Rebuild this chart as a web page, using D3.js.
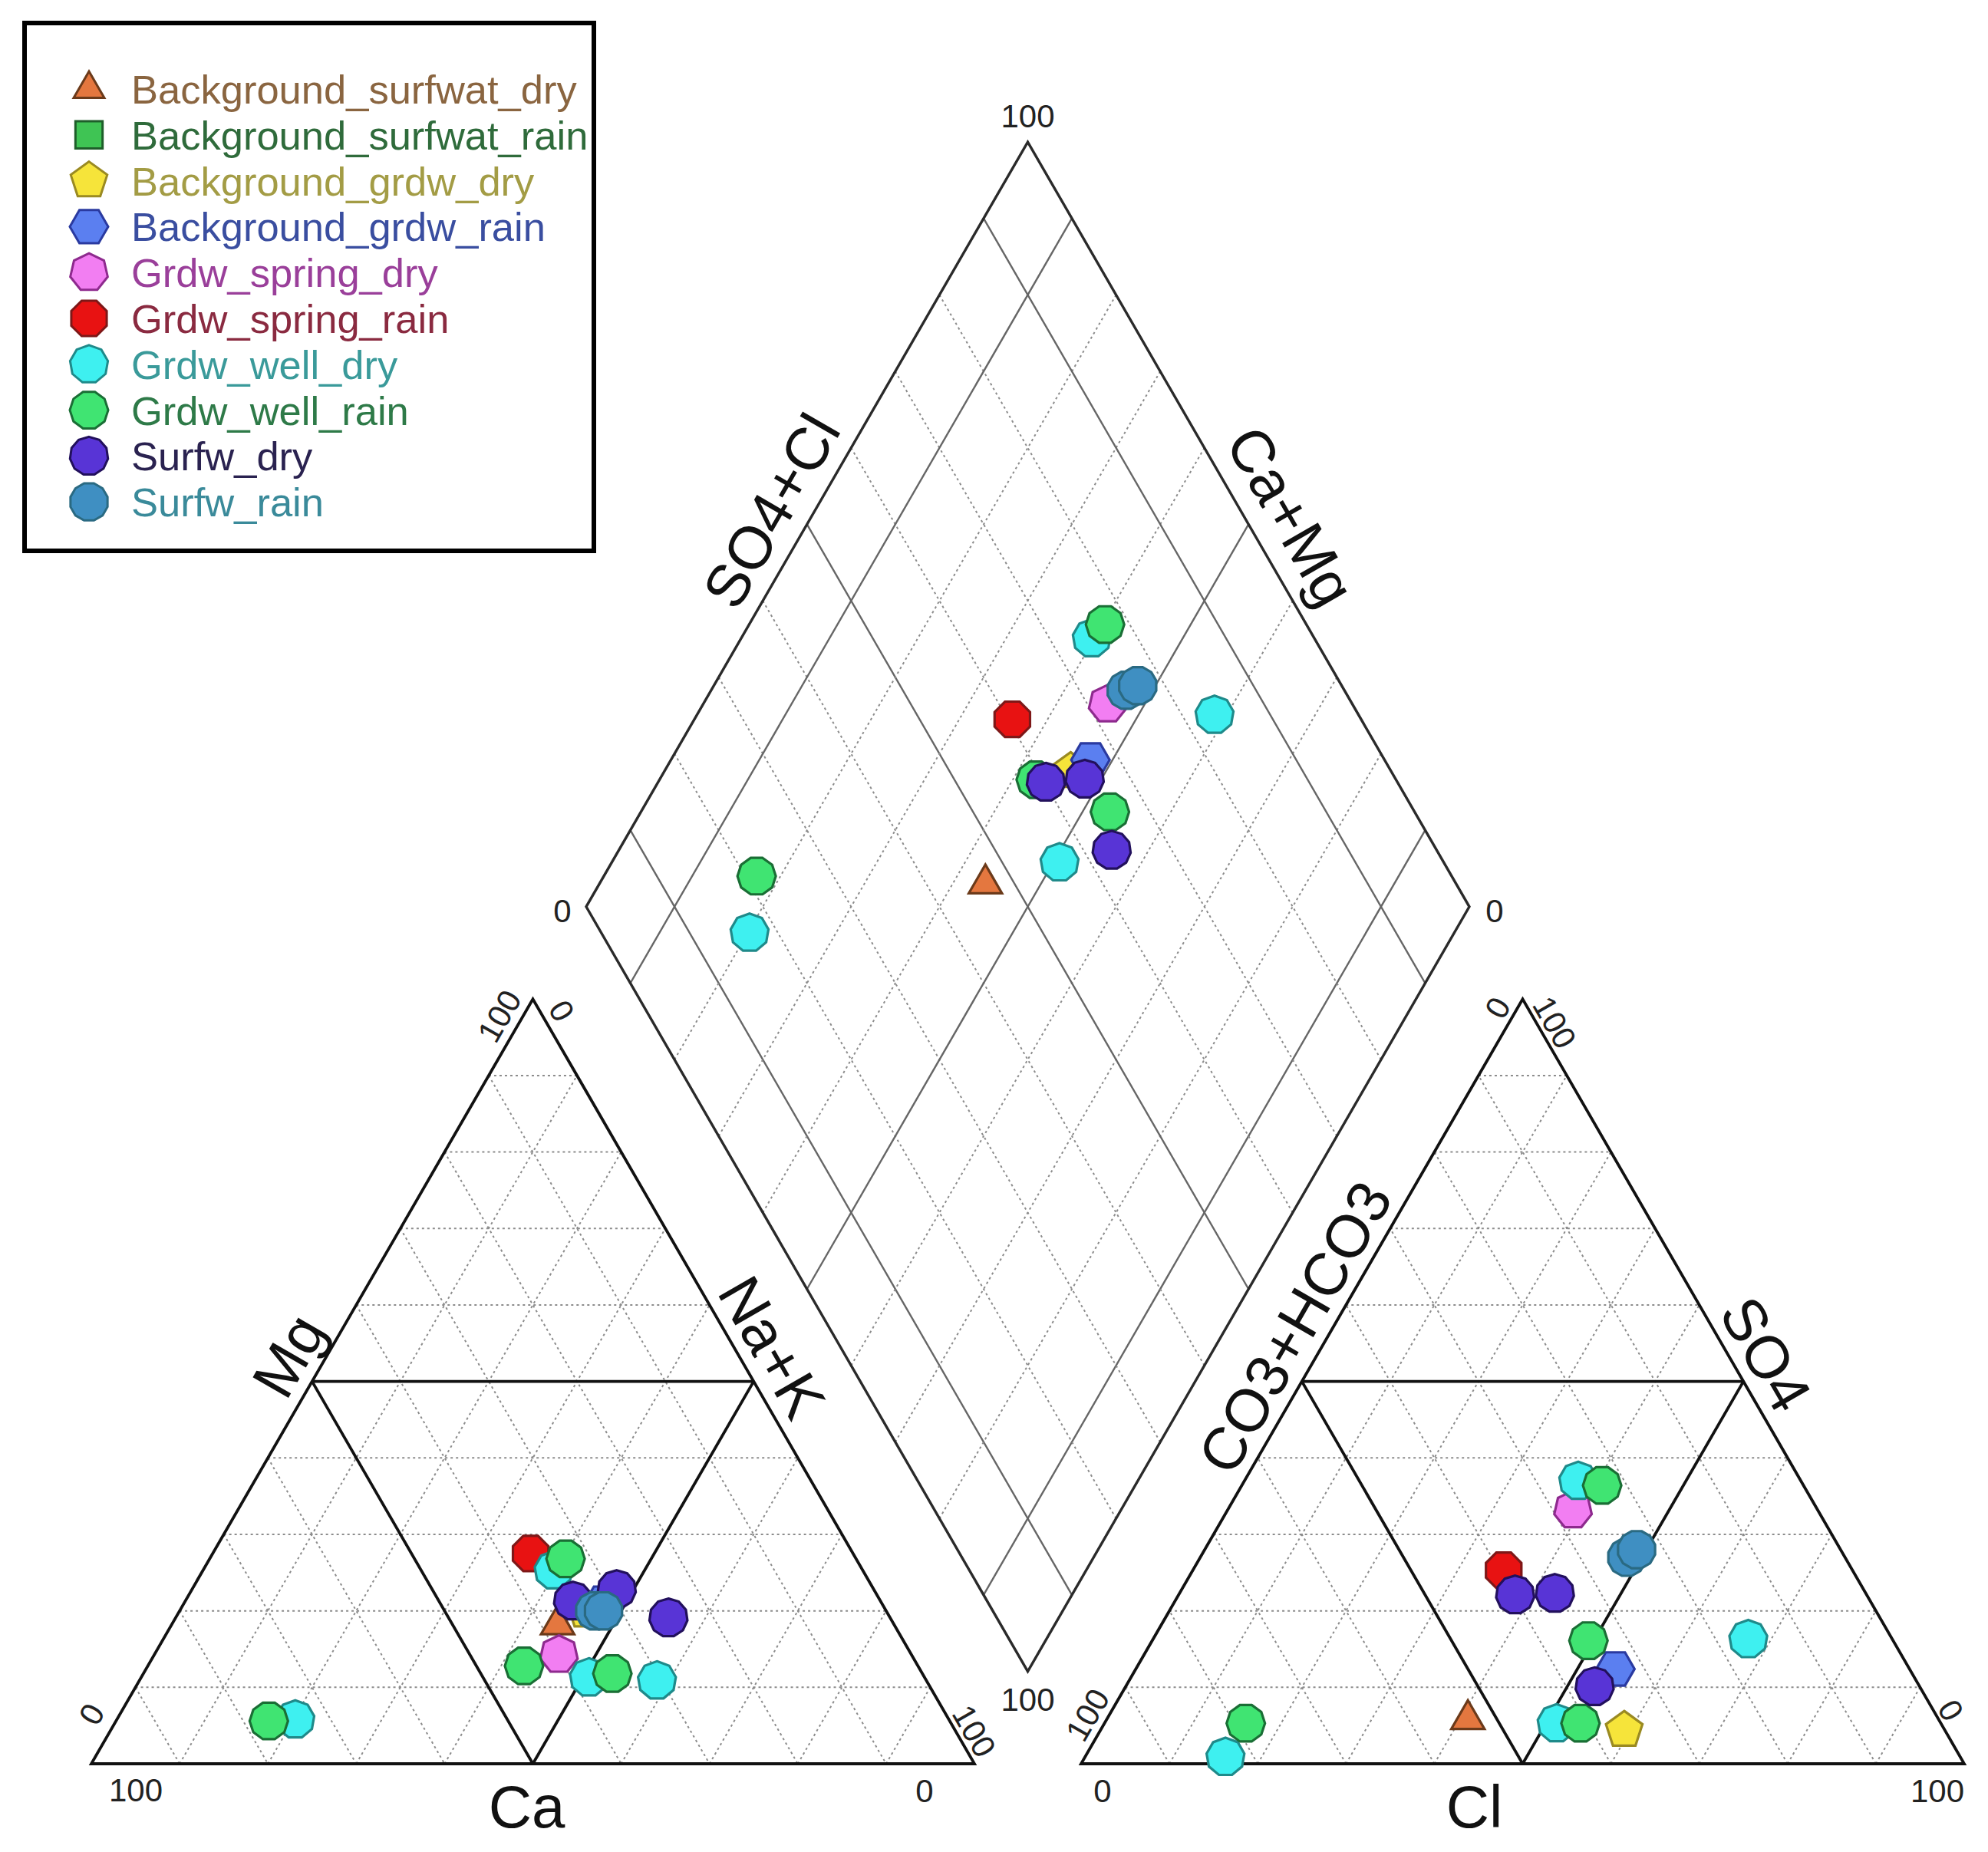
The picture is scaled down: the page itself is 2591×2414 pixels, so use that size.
<!DOCTYPE html>
<html>
<head>
<meta charset="utf-8">
<script src="https://cdn.jsdelivr.net/npm/d3@7"></script>
<style>
  body { margin: 0; background: #fff; }
  svg { display: block; font-family: "Liberation Sans", Arial, sans-serif; }
</style>
</head>
<body>
<div id="chart"></div>
<script>
/* global d3 */
// ---- series (legend order = draw order) ----
var seriesNames = ["Background_surfwat_dry", "Background_surfwat_rain", "Background_grdw_dry",
  "Background_grdw_rain", "Grdw_spring_dry", "Grdw_spring_rain", "Grdw_well_dry",
  "Grdw_well_rain", "Surfw_dry", "Surfw_rain"];
var seriesSides = [3, 4, 5, 6, 7, 8, 9, 10, 11, 12];
var seriesFill = ["#e4773f", "#3fc454", "#f6e43a", "#5b7ff0", "#f27ef2", "#e81212",
  "#3ef0f0", "#40e472", "#5834d6", "#3f8fc2"];
var seriesStroke = ["#6b3a1a", "#1e5e2a", "#9a8a22", "#2a3aa0", "#8e2a8e", "#7e1818",
  "#1f8a8a", "#1a6e35", "#22105c", "#2a6a82"];
var seriesTextColor = ["#8a6540", "#2f6b3b", "#a39c45", "#3a4ea0", "#9a3f9a", "#8a2a40",
  "#3a9a9a", "#2e7a48", "#2a2250", "#3a8a9a"];

// ---- samples (percent of meq) ----
var sampleSeries = [0, 2, 3, 4, 5, 6, 6, 6, 6, 7, 7, 7, 7, 8, 8, 8, 9, 9];
var caPct   = [38.1, 34.0, 31.5, 39.9, 36.5, 35.0, 30.5, 38.0, 74.0, 32.9, 44.6, 35.1, 77.1, 34.8, 29.1, 25.1, 33.0, 32.0];
var mgPct   = [18.2, 20.0, 21.0, 14.3, 27.5, 25.3, 10.9, 11.3, 5.8, 26.8, 12.8, 11.8, 5.6, 21.3, 22.8, 19.1, 20.0, 20.0];
var naKPct  = [43.7, 46.0, 47.5, 45.8, 36.0, 39.7, 58.6, 50.7, 20.2, 40.3, 42.6, 53.1, 17.3, 43.9, 48.1, 55.8, 47.0, 48.0];
var clPct   = [40.9, 59.3, 54.3, 39.1, 35.2, 37.8, 67.4, 51.2, 15.9, 40.8, 53.9, 49.4, 16.0, 38.1, 42.5, 53.1, 48.3, 48.9];
var so4Pct  = [5.8, 4.4, 12.4, 33.2, 25.3, 37.0, 16.3, 5.3, 0.9, 36.4, 5.3, 16.1, 5.3, 22.1, 22.3, 10.1, 27.0, 28.0];
var hco3Pct = [53.3, 36.3, 33.3, 27.7, 39.5, 25.2, 16.3, 43.5, 83.2, 22.8, 40.8, 34.5, 78.7, 39.8, 35.2, 36.8, 24.7, 23.1];

var gridSteps = d3.range(10, 100, 10);
var diamondSolid = [10, 50, 90];

// ---- geometry ----
var W = 2591, H = 2414;
var side = 1151, triH = side * Math.sqrt(3) / 2;
var baseY = 2299, leftX0 = 119, gap = 139;
var rightX0 = leftX0 + side + gap;
var cx = leftX0 + side + gap / 2;
var dBotY = baseY - gap * Math.sqrt(3) / 2;

var yTri = d3.scaleLinear().domain([0, 100]).range([baseY, baseY - triH]);
var xLeft = d3.scaleLinear().domain([0, 100]).range([leftX0, leftX0 + side]);
var xRight = d3.scaleLinear().domain([0, 100]).range([rightX0, rightX0 + side]);
var xDia = d3.scaleLinear().domain([-100, 100]).range([cx - side / 2, cx + side / 2]);
var yDia = d3.scaleLinear().domain([0, 200]).range([dBotY, dBotY - 2 * triH]);

function cat( ca, mg, nak ) { return [xLeft( nak + mg / 2 ), yTri( mg )]; }
function ani( cl, so4, hco3 ) { return [xRight( cl + so4 / 2 ), yTri( so4 )]; }
function dia( a, s ) { return [xDia( s - a ), yDia( a + s )]; }

var L1 = cat( 100, 0, 0 ), R1 = cat( 0, 0, 100 ), A1 = cat( 0, 100, 0 );
var L2 = ani( 0, 0, 100 ), R2 = ani( 100, 0, 0 ), A2 = ani( 0, 100, 0 );
var dB = dia( 0, 0 ), dL = dia( 100, 0 ), dR = dia( 0, 100 ), dT = dia( 100, 100 );

var svg = d3.select( "#chart" ).append( "svg" )
  .attr( "width", W ).attr( "height", H );
svg.append( "rect" ).attr( "width", W ).attr( "height", H ).attr( "fill", "#fff" );

var line = d3.line();

var gGrid = svg.append( "g" )
  .attr( "fill", "none" );

function dotted( p, q ) {
  gGrid.append( "path" ).attr( "d", line( [p, q] ) )
    .attr( "stroke", "#8c8c8c" ).attr( "stroke-width", 2 ).attr( "stroke-dasharray", "3,4" );
}

// triangle grids
gridSteps.forEach( function ( k ) {
  dotted( cat( 100 - k, k, 0 ), cat( 0, k, 100 - k ) );
  dotted( cat( 100 - k, 0, k ), cat( 0, 100 - k, k ) );
  dotted( cat( k, 100 - k, 0 ), cat( k, 0, 100 - k ) );
  dotted( ani( 0, k, 100 - k ), ani( 100 - k, k, 0 ) );
  dotted( ani( k, 0, 100 - k ), ani( k, 100 - k, 0 ) );
  dotted( ani( 100 - k, 0, k ), ani( 0, 100 - k, k ) );
} );

// diamond grid
gridSteps.forEach( function ( k ) {
  var solid = diamondSolid.indexOf( k ) >= 0;
  [[dia( k, 0 ), dia( k, 100 )], [dia( 0, k ), dia( 100, k )]].forEach( function ( pq ) {
    if ( solid ) {
      gGrid.append( "path" ).attr( "d", line( pq ) )
        .attr( "stroke", "#666" ).attr( "stroke-width", 2.4 );
    } else {
      dotted( pq[0], pq[1] );
    }
  } );
} );

// outlines
var gOut = svg.append( "g" ).attr( "fill", "none" ).attr( "stroke-linejoin", "miter" );
[[L1, R1, A1], [L2, R2, A2]].forEach( function ( t ) {
  gOut.append( "path" ).attr( "d", line( t ) + "Z" )
    .attr( "stroke", "#111" ).attr( "stroke-width", 3.8 );
} );
gOut.append( "path" ).attr( "d", line( [dB, dL, dT, dR] ) + "Z" )
  .attr( "stroke", "#2a2a2a" ).attr( "stroke-width", 3.4 );

// inner facies lines of the triangles
[
  [cat( 50, 50, 0 ), cat( 0, 50, 50 )], [cat( 50, 0, 50 ), cat( 50, 50, 0 )], [cat( 50, 0, 50 ), cat( 0, 50, 50 )],
  [ani( 0, 50, 50 ), ani( 50, 50, 0 )], [ani( 50, 0, 50 ), ani( 0, 50, 50 )], [ani( 50, 0, 50 ), ani( 50, 50, 0 )]
].forEach( function ( pq ) {
  gOut.append( "path" ).attr( "d", line( pq ) ).attr( "stroke", "#111" ).attr( "stroke-width", 3.8 );
} );

// ---- tick labels ----
var tickDefs = [
  { p: A1, t: "100", dx: -44, dy: 22, r: -60 }, { p: A1, t: "0", dx: 38, dy: 15, r: 60 },
  { p: L1, t: "0", dx: 0, dy: -65, r: -60 }, { p: L1, t: "100", dx: 58, dy: 34, r: 0 },
  { p: R1, t: "0", dx: -65, dy: 35, r: 0 }, { p: R1, t: "100", dx: 0, dy: -43, r: 60 },
  { p: A2, t: "0", dx: -33, dy: 11, r: -60 }, { p: A2, t: "100", dx: 42, dy: 30, r: 60 },
  { p: L2, t: "100", dx: 8, dy: -64, r: -60 }, { p: L2, t: "0", dx: 28, dy: 35, r: 0 },
  { p: R2, t: "100", dx: -35, dy: 35, r: 0 }, { p: R2, t: "0", dx: -17, dy: -70, r: 60 },
  { p: dT, t: "100", dx: 0, dy: -34, r: 0 }, { p: dL, t: "0", dx: -31, dy: 5, r: 0 },
  { p: dR, t: "0", dx: 33, dy: 5, r: 0 }, { p: dB, t: "100", dx: 0, dy: 36, r: 0 }
];
svg.append( "g" ).selectAll( "text" ).data( tickDefs ).enter().append( "text" )
  .attr( "transform", function ( d ) {
    return "translate(" + ( d.p[0] + d.dx ) + "," + ( d.p[1] + d.dy ) + ") rotate(" + d.r + ")";
  } )
  .attr( "text-anchor", "middle" ).attr( "dy", "0.36em" )
  .attr( "font-size", 42 ).attr( "fill", "#222" )
  .text( function ( d ) { return d.t; } );

// ---- axis titles ----
function alongEdge( p0, p1, t, d, nrm ) {
  return [p0[0] + t * ( p1[0] - p0[0] ) + d * nrm[0], p0[1] + t * ( p1[1] - p0[1] ) + d * nrm[1]];
}
var nLeft = [-0.866, -0.5], nRight = [0.866, -0.5];
var titleDefs = [
  { t: "Mg", p: alongEdge( L1, A1, 0.512, 44, nLeft ), r: -60 },
  { t: "Na+K", p: alongEdge( R1, A1, 0.523, 44, nRight ), r: 60 },
  { t: "CO3+HCO3", p: alongEdge( L2, A2, 0.549, 44, nLeft ), r: -60 },
  { t: "SO4", p: alongEdge( R2, A2, 0.514, 44, nRight ), r: 60 },
  { t: "SO4+Cl", p: alongEdge( dL, dT, 0.493, 50, nLeft ), r: -60 },
  { t: "Ca+Mg", p: alongEdge( dR, dT, 0.484, 54, nRight ), r: 60 },
  { t: "Ca", p: [( L1[0] + R1[0] ) / 2 - 8, baseY + 55], r: 0 },
  { t: "Cl", p: [( L2[0] + R2[0] ) / 2 - 63, baseY + 55], r: 0 }
];
svg.append( "g" ).selectAll( "text" ).data( titleDefs ).enter().append( "text" )
  .attr( "transform", function ( d ) { return "translate(" + d.p[0] + "," + d.p[1] + ") rotate(" + d.r + ")"; } )
  .attr( "text-anchor", "middle" ).attr( "dy", "0.36em" )
  .attr( "font-size", 78 ).attr( "fill", "#111" )
  .text( function ( d ) { return d.t; } );

// ---- markers ----
function polygon( n, r ) {
  var start = ( n % 2 === 0 ) ? -90 + 180 / n : -90;
  var pts = d3.range( n ).map( function ( i ) {
    var a = ( start + i * 360 / n ) * Math.PI / 180;
    return [r * Math.cos( a ), r * Math.sin( a )];
  } );
  return line( pts ) + "Z";
}
var markR = 25;
var samples = sampleSeries.map( function ( s, i ) {
  return {
    s: s,
    c: cat( caPct[i], mgPct[i], naKPct[i] ),
    a: ani( clPct[i], so4Pct[i], hco3Pct[i] ),
    d: dia( caPct[i] + mgPct[i], clPct[i] + so4Pct[i] )
  };
} ).sort( function ( p, q ) { return p.s - q.s; } );

var gPts = svg.append( "g" );
["c", "a", "d"].forEach( function ( key ) {
  gPts.selectAll( ".pt-" + key ).data( samples ).enter().append( "path" )
    .attr( "class", "pt-" + key )
    .attr( "transform", function ( d ) { return "translate(" + d[key][0] + "," + d[key][1] + ")"; } )
    .attr( "d", function ( d ) { return polygon( seriesSides[d.s], markR ); } )
    .attr( "fill", function ( d ) { return seriesFill[d.s]; } )
    .attr( "stroke", function ( d ) { return seriesStroke[d.s]; } )
    .attr( "stroke-width", 3.2 );
} );

// ---- legend ----
var gLeg = svg.append( "g" );
gLeg.append( "rect" ).attr( "x", 32 ).attr( "y", 30 ).attr( "width", 742 ).attr( "height", 688 )
  .attr( "fill", "#fff" ).attr( "stroke", "#000" ).attr( "stroke-width", 6 );
var row = gLeg.selectAll( ".row" ).data( seriesNames ).enter().append( "g" )
  .attr( "transform", function ( d, i ) { return "translate(116," + ( 116 + i * 59.8 ) + ")"; } );
row.append( "path" )
  .attr( "d", function ( d, i ) { return polygon( seriesSides[i], i === 0 ? 23 : 25 ); } )
  .attr( "fill", function ( d, i ) { return seriesFill[i]; } )
  .attr( "stroke", function ( d, i ) { return seriesStroke[i]; } )
  .attr( "stroke-width", 3 );
row.append( "text" )
  .attr( "x", 55 ).attr( "dy", "0.36em" )
  .attr( "font-size", 52.5 )
  .attr( "fill", function ( d, i ) { return seriesTextColor[i]; } )
  .text( function ( d ) { return d; } );
</script>
</body>
</html>
